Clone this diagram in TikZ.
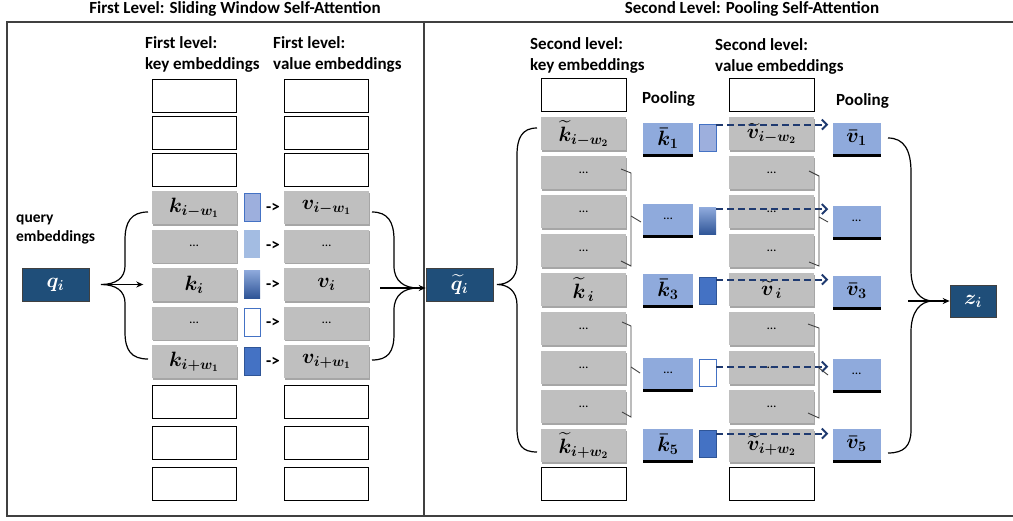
\documentclass[tikz,border=0pt]{standalone}
\usepackage{amsmath}
\usepackage{fontspec}
\setmainfont{Carlito}
\usetikzlibrary{shadows,arrows.meta,calc}
\definecolor{boxgray}{HTML}{BFBFBF}
\definecolor{poolblue}{HTML}{8FAADC}
\definecolor{darkblue}{HTML}{1F4E79}
\definecolor{midblue}{HTML}{4472C4}
\definecolor{deepblue}{HTML}{2F5597}
\definecolor{lightsq}{HTML}{9DAFDD}
\definecolor{paleblue}{HTML}{A3BCE2}
\definecolor{navy}{HTML}{1F3A70}
\definecolor{framegray}{HTML}{404040}
\newcommand\mylbl{\fontsize{20}{22}\selectfont\boldmath}
\newcommand\mydots{\fontsize{13}{14}\selectfont\ldots}
\begin{document}
\begin{tikzpicture}[x=1pt,y=-1pt,
  font=\bfseries,
  framel/.style={draw=framegray,line width=1.1pt},
  wbox/.style={draw=black,line width=0.9pt,fill=white,minimum width=84pt,minimum height=33pt,inner sep=0pt},
  gbox/.style={fill=boxgray,minimum width=85pt,minimum height=33pt,inner sep=0pt,
    drop shadow={shadow xshift=1pt,shadow yshift=-1.8pt,fill=black,opacity=0.35},font=\mylbl},
  pbox/.style={fill=poolblue,minimum width=50pt,minimum height=31pt,inner sep=0pt,
    drop shadow={shadow xshift=0pt,shadow yshift=-3pt,fill=black,opacity=1},font=\mylbl},
  dbox/.style={fill=darkblue,draw=framegray,line width=0.6pt,minimum height=33pt,inner sep=0pt,text=white,font=\mylbl},
  sq/.style={minimum width=16pt,minimum height=28pt,inner sep=0pt,line width=0.8pt},
  sqA/.style={sq,fill=lightsq,draw=midblue},
  sqB/.style={sq,fill=paleblue},
  sqC/.style={sq,top color=poolblue,bottom color=deepblue},
  sqD/.style={sq,fill=white,draw=midblue},
  sqE/.style={sq,fill=midblue,draw=deepblue},
  hdr/.style={anchor=north west,align=left,inner sep=0pt,font=\fontsize{17}{21}\selectfont\bfseries},
  ttl/.style={anchor=base,inner sep=0pt,font=\fontsize{17}{18}\selectfont\bfseries},
  smallarrow/.style={inner sep=0pt,font=\fontsize{17}{19}\selectfont\bfseries},
  brace/.style={draw=black,line width=1.2pt},
  conn/.style={draw=black,line width=1.2pt,-{Stealth[length=7pt,width=6pt]}},
  dasharrow/.style={draw=navy,line width=2pt,dash pattern=on 7pt off 4pt,-{Straight Barb[length=5pt,width=10pt,line width=2pt]}},
  bracket/.style={draw=framegray,line width=0.9pt}
]
\useasboundingbox (0,0) rectangle (1013,520);

% titles
\node[ttl] (t1) at (235,13.5) {First Level: Sliding Window Self-Attention};
\node[ttl] (t2) at (752,13.5) {Second Level: Pooling Self-Attention};

% frame
\draw[framel] (1013,22) -- (7,22) -- (7,516) -- (1013,516);
\draw[framel] (424,22) -- (424,516);

% ---------- left panel ----------
\node[hdr] (h1) at (145,36) {First level:\\key embeddings};
\node[hdr] (h2) at (273,36) {First level:\\value embeddings};

\foreach \n/\y in {1/95.5,2/132.5,3/169.5,4/401.5,5/442.5,6/483.5}{
  \node[wbox] (lkw\n) at (194,\y) {};
  \node[wbox] (lvw\n) at (326.5,\y) {};
}
\node[gbox] (lk1) at (194,207.5) {$k_{i-w_1}$};
\node[gbox] (lk2) at (194,246) {\mydots};
\node[gbox] (lk3) at (194,284.5) {$k_i$};
\node[gbox] (lk4) at (194,323) {\mydots};
\node[gbox] (lk5) at (194,361.5) {$k_{i+w_1}$};
\node[gbox] (lv1) at (326.5,207.5) {$v_{i-w_1}$};
\node[gbox] (lv2) at (326.5,246) {\mydots};
\node[gbox] (lv3) at (326.5,284.5) {$v_i$};
\node[gbox] (lv4) at (326.5,323) {\mydots};
\node[gbox] (lv5) at (326.5,361.5) {$v_{i+w_1}$};

\node[sqA] (ls1) at (252,207) {};
\node[sqB] (ls2) at (252,244) {};
\node[sqC] (ls3) at (252,284) {};
\node[sqD] (ls4) at (252,322.5) {};
\node[sqE] (ls5) at (252,361) {};
\foreach \n/\y in {1/207.5,2/246,3/284.5,4/323,5/361.5}{
  \node[smallarrow] (la\n) at (273,\y) {->};
}

\node[dbox,minimum width=67pt] (q) at (55.5,284.5) {$q_i$};
\node[anchor=west,align=left,inner sep=0pt,font=\fontsize{15.5}{19}\selectfont\bfseries] (ql) at (16,229.5) {query\\embeddings};

\coordinate (qtip) at (101,284.5);
\draw[brace] (148,212) .. controls (131,212) and (125,222) .. (125,240) -- (125,266)
  .. controls (125,278) and (116,284.5) .. (qtip)
  .. controls (116,284.5) and (125,291) .. (125,303) -- (125,332)
  .. controls (125,350) and (131,359) .. (148,359);
\draw[conn] (qtip) -- ([xshift=-8pt]lk3.west);

\coordinate (lvtip) at (418,288);
\draw[brace] (372,212) .. controls (388,212) and (394,222) .. (394,240) -- (394,266)
  .. controls (394,281) and (404,288) .. (lvtip)
  .. controls (404,288) and (394,295) .. (394,310) -- (394,334)
  .. controls (394,352) and (388,360) .. (372,360);

% ---------- right panel ----------
\node[dbox,minimum width=67pt] (qt) at (459.5,284.5) {$\widetilde{q}_i$};
\coordinate (lvstart) at (380,288);
\draw[conn] (lvstart) -- (lvstart -| qt.west);

\node[hdr] (h3) at (530,37) {Second level:\\key embeddings};
\node[hdr] (h4) at (715,38) {Second level:\\value embeddings};
\node[anchor=west,inner sep=0pt,font=\fontsize{17}{19}\selectfont\bfseries] (p1) at (642,99) {Pooling};
\node[anchor=west,inner sep=0pt,font=\fontsize{17}{19}\selectfont\bfseries] (p2) at (836,101) {Pooling};

\node[wbox,minimum width=85pt] (rkw1) at (583.5,94.5) {};
\node[wbox,minimum width=85pt] (rkw2) at (583.5,484) {};
\node[wbox,minimum width=85pt] (rvw1) at (771.5,94.5) {};
\node[wbox,minimum width=85pt] (rvw2) at (771.5,484) {};

\node[gbox] (rk1) at (583.5,133.5) {$\widetilde{k}_{i-w_2}$};
\node[gbox] (rk2) at (583.5,172.5) {\mydots};
\node[gbox] (rk3) at (583.5,211.5) {\mydots};
\node[gbox] (rk4) at (583.5,250.5) {\mydots};
\node[gbox] (rk5) at (583.5,289.5) {$\widetilde{k}_{\,i}$};
\node[gbox] (rk6) at (583.5,328.5) {\mydots};
\node[gbox] (rk7) at (583.5,367.5) {\mydots};
\node[gbox] (rk8) at (583.5,406.5) {\mydots};
\node[gbox] (rk9) at (583.5,445.5) {$\widetilde{k}_{i+w_2}$};

\node[gbox] (rv1) at (771.5,133.5) {$\widetilde{v}_{i-w_2}$};
\node[gbox] (rv2) at (771.5,172.5) {\mydots};
\node[gbox] (rv3) at (771.5,211.5) {\mydots};
\node[gbox] (rv4) at (771.5,250.5) {\mydots};
\node[gbox] (rv5) at (771.5,289.5) {$\widetilde{v}_{\,i}$};
\node[gbox] (rv6) at (771.5,328.5) {\mydots};
\node[gbox] (rv7) at (771.5,367.5) {\mydots};
\node[gbox] (rv8) at (771.5,406.5) {\mydots};
\node[gbox] (rv9) at (771.5,445.5) {$\widetilde{v}_{i+w_2}$};

\node[pbox] (kb1) at (668,138) {$\bar{k}_1$};
\node[pbox] (kb2) at (668,219) {\mydots};
\node[pbox] (kb3) at (668,289) {$\bar{k}_3$};
\node[pbox] (kb4) at (668,373) {\mydots};
\node[pbox] (kb5) at (668,444) {$\bar{k}_5$};

\node[sqA,minimum width=17pt,minimum height=27pt] (rs1) at (707.5,137.5) {};
\node[sqC,minimum width=17pt,minimum height=27pt] (rs2) at (707.5,221) {};
\node[sqE,minimum width=17pt,minimum height=27pt] (rs3) at (707.5,290.5) {};
\node[sqD,minimum width=17pt,minimum height=27pt] (rs4) at (707.5,372.5) {};
\node[sqE,minimum width=17pt,minimum height=27pt] (rs5) at (707.5,443.5) {};

\node[pbox,minimum width=48pt] (vb1) at (856.5,138) {$\bar{v}_1$};
\node[pbox,minimum width=48pt] (vb2) at (856.5,221) {\mydots};
\node[pbox,minimum width=48pt] (vb3) at (856.5,291) {$\bar{v}_3$};
\node[pbox,minimum width=48pt] (vb4) at (856.5,374) {\mydots};
\node[pbox,minimum width=48pt] (vb5) at (856.5,444) {$\bar{v}_5$};

\draw[dasharrow] ([yshift=-1pt]rs1.north east) -- ([xshift=-4pt,yshift=-1pt]rs1.north east -| vb1.west);
\draw[dasharrow] ([yshift=-2pt]rs2.north east) -- ([xshift=-4pt,yshift=-2pt]rs2.north east -| vb2.west);
\draw[dasharrow] ([yshift=-3pt]rs3.north east) -- ([xshift=-4pt,yshift=-3pt]rs3.north east -| vb3.west);
\draw[dasharrow] ([yshift=-8pt]rs4.north east) -- ([xshift=-4pt,yshift=-8pt]rs4.north east -| vb4.west);
\draw[dasharrow] ([yshift=-4pt]rs5.north east) -- ([xshift=-4pt,yshift=-4pt]rs5.north east -| vb5.west);

% grouping brackets
\draw[bracket] (621,169) -- (631,173) -- (631,266) -- (621,261);
\draw[bracket] (631,216) -- (641,222);
\draw[bracket] (622,322) -- (631,326) -- (631,417) -- (622,412);
\draw[bracket] (631,367) -- (640,373);
\draw[bracket] (809,171) -- (819,176) -- (819,266) -- (809,262);
\draw[bracket] (819,217) -- (828,222);
\draw[bracket] (808,324) -- (819,328) -- (819,418) -- (808,413);
\draw[bracket] (819,368) -- (828,375);

% brace from q tilde
\coordinate (rqtip) at (497,284.5);
\draw[brace] (537,128) .. controls (522,128) and (517,138) .. (517,155) -- (517,264)
  .. controls (517,278) and (508,284.5) .. (rqtip)
  .. controls (508,284.5) and (517,291) .. (517,305) -- (517,428)
  .. controls (517,445) and (522,452) .. (537,452);

% z
\node[dbox,minimum width=46pt,minimum height=32pt] (z) at (973,301) {$z_i$};
\coordinate (ztip) at (933,301);
\draw[brace] (888,138) .. controls (904,138) and (911,150) .. (911,172) -- (911,270)
  .. controls (911,290) and (920,301) .. (ztip)
  .. controls (920,301) and (911,312) .. (911,332) -- (911,430)
  .. controls (911,446) and (904,453) .. (888,453);
\coordinate (zstart) at (908,301);
\draw[conn] (zstart) -- (z.west);
\end{tikzpicture}
\end{document}
